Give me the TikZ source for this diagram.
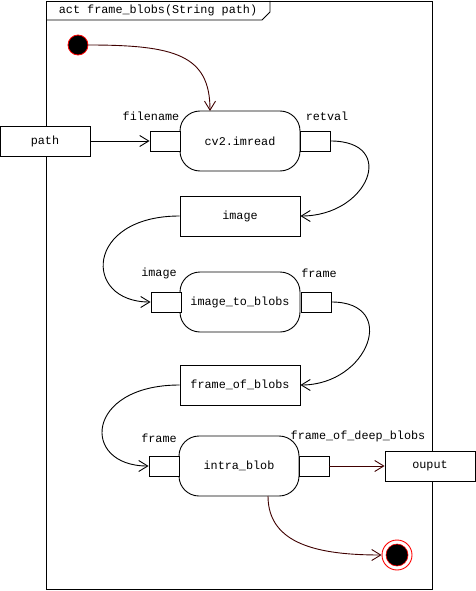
\documentclass[tikz,border=0pt]{standalone}
\usepackage{fontspec}
\setmonofont{Liberation Mono}
\usetikzlibrary{arrows.meta}
\definecolor{flowred}{RGB}{64,0,0}
\tikzset{
  txt/.style={font=\ttfamily\fontsize{11.8}{14}\selectfont, inner sep=0pt},
  boxnode/.style={draw, fill=white, line width=0.9pt, txt},
  action/.style={boxnode, rounded corners=20pt, minimum width=120pt, minimum height=60pt},
  objbox/.style={boxnode, minimum width=120pt, minimum height=40pt},
  parambox/.style={boxnode, minimum width=90pt, minimum height=30pt},
  pin/.style={draw, fill=white, line width=0.9pt, minimum width=30pt, minimum height=20pt, inner sep=0pt},
  flow/.style={line width=0.9pt, -{Straight Barb[length=9pt,width=11pt]}},
  ctrl/.style={flow, draw=flowred},
}
\begin{document}
\begin{tikzpicture}[x=1pt,y=-1pt]
\useasboundingbox (0,0) rectangle (476,591);
\fill[white] (0,0) rectangle (476,591);

% activity frame with its name tab
\draw[line width=0.9pt] (46,1) rectangle (432,589);
\draw[line width=0.9pt] (46,20) -- (262,20) -- (270,12) -- (270,1);
\node[txt] (title) at (158,10) {act frame\_blobs(String path)};

% start and end
\node[circle, fill=black, draw=red, line width=0.8pt, minimum size=20pt, inner sep=0pt] (start) at (78,45) {};
\node[circle, draw=red, fill=white, line width=0.9pt, minimum size=30pt, inner sep=0pt] (finish) at (397,555) {};
\node[circle, fill=black, draw=red, line width=0.6pt, minimum size=22pt, inner sep=0pt] (finishdot) at (397,555) {};

% actions
\node[action] (imread) at (240,141) {cv2.imread};
\node[action] (itb) at (240,302) {image\_to\_blobs};
\node[action] (intra) at (239,466) {intra\_blob};
\coordinate (imreadtop) at (210,111);
\coordinate (intrabottom) at (268,496);

% pins
\node[pin] (imreadin) at (165,141) {};
\node[pin] (imreadout) at (315,141) {};
\node[pin] (itbin) at (166,302) {};
\node[pin] (itbout) at (316,302) {};
\node[pin] (intrain) at (164,466) {};
\node[pin] (intraout) at (314,466) {};

% pin labels
\node[txt] (lfilename) at (151,116) {filename};
\node[txt] (lretval) at (327,116) {retval};
\node[txt] (limage) at (159,273) {image};
\node[txt] (lframe) at (319,273) {frame};
\node[txt] (lframeb) at (159,438) {frame};
\node[txt] (ldeep) at (358,436) {frame\_of\_deep\_blobs};

% objects and parameters
\node[parambox] (path) at (45,141) {path};
\node[objbox] (image) at (240,216) {image};
\node[objbox] (fob) at (240,385) {frame\_of\_blobs};
\node[parambox] (ouput) at (430,466) {ouput};

% flows
\draw[ctrl] (start.east) .. controls (175,45) and (210,55) .. (imreadtop);
\draw[flow] (path.east) -- (imreadin.west);
\draw[flow] (imreadout.east) .. controls +(68,0) and +(68,0) .. (image.east);
\draw[flow] (image.west) .. controls +(-95,0) and +(-68,0) .. (itbin.west);
\draw[flow] (itbout.east) .. controls +(68,0) and +(68,0) .. (fob.east);
\draw[flow] (fob.west) .. controls +(-95,0) and +(-68,0) .. (intrain.west);
\draw[ctrl] (intraout.east) -- (ouput.west);
\draw[ctrl] (intrabottom) .. controls (268,545) and (320,555) .. (finish.west);
\end{tikzpicture}
\end{document}
